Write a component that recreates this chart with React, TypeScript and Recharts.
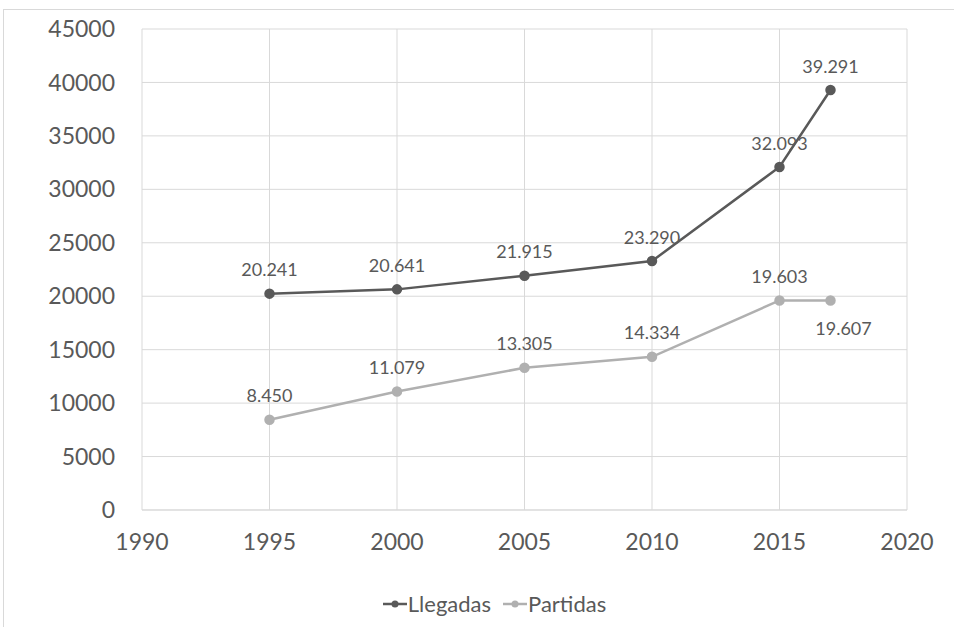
import { CartesianGrid, LabelList, Legend, Line, LineChart, XAxis, YAxis } from "recharts";

const GRID = "#d9d9d9";
const TEXT = "#595959";
const DARK = "#595959";
const LIGHT = "#b0b0b0";
const FONT = "Lato, 'Open Sans', sans-serif";

const years = [1995, 2000, 2005, 2010, 2015, 2017];
const llegadas = [20241, 20641, 21915, 23290, 32093, 39291];
const partidas = [8450, 11079, 13305, 14334, 19603, 19607];
const xTicks = [1990, 1995, 2000, 2005, 2010, 2015, 2020];
const yTicks = [0, 5000, 10000, 15000, 20000, 25000, 30000, 35000, 40000, 45000];

const data = years.map((year, i) => ({
  year,
  Llegadas: llegadas[i],
  Partidas: partidas[i],
}));

const fmt = (v: number) => String(v).replace(/\B(?=(\d{3})+(?!\d))/g, ".");

function PointLabel(props: any) {
  const { x, y, value, index, below } = props;
  const isBelow = below && index === years.length - 1;
  return (
    <text
      x={isBelow ? x + 13 : x}
      y={isBelow ? y + 30 : y - 22}
      textAnchor="middle"
      dominantBaseline="middle"
      fill={TEXT}
      fontSize={18}
      fontFamily={FONT}
    >
      {fmt(value)}
    </text>
  );
}

function LegendContent() {
  const items = [
    { name: "Llegadas", color: DARK },
    { name: "Partidas", color: LIGHT },
  ];
  return (
    <div style={{ display: "flex", justifyContent: "center", gap: 12, fontFamily: FONT, fontSize: 22, color: TEXT }}>
      {items.map((it) => (
        <div key={it.name} style={{ display: "flex", alignItems: "center" }}>
          <svg width={24} height={10} style={{ marginRight: 1 }}>
            <line x1={0} y1={5} x2={24} y2={5} stroke={it.color} strokeWidth={2.5} />
            <circle cx={12} cy={5} r={3.5} fill={it.color} />
          </svg>
          <span>{it.name}</span>
        </div>
      ))}
    </div>
  );
}

export default function App() {
  return (
    <div style={{ position: "absolute", left: 0, top: 0, width: 954, height: 627, overflow: "hidden", background: "#fff" }}>
      <div style={{ position: "absolute", left: 3, top: 9, width: 980, height: 660, border: `1px solid ${GRID}` }} />
      <div style={{ position: "absolute", left: 0, top: 0 }}>
        <LineChart width={954} height={627} data={data} margin={{ top: 29, right: 47, bottom: 60, left: 82 }}>
          <CartesianGrid stroke={GRID} strokeWidth={1} />
          <XAxis
            dataKey="year"
            type="number"
            domain={[1990, 2020]}
            ticks={xTicks}
            axisLine={{ stroke: GRID }}
            tickLine={false}
            tickSize={0}
            tickMargin={24}
            tick={{ fill: TEXT, fontSize: 23, fontFamily: FONT }}
          />
          <YAxis
            width={60}
            domain={[0, 45000]}
            ticks={yTicks}
            axisLine={false}
            tickLine={false}
            tickSize={0}
            tickMargin={27}
            tick={{ fill: TEXT, fontSize: 23, fontFamily: FONT }}
          />
          <Legend verticalAlign="bottom" content={<LegendContent />} wrapperStyle={{ bottom: 10 }} />
          <Line
            dataKey="Llegadas"
            stroke={DARK}
            strokeWidth={2.5}
            dot={{ r: 4, fill: DARK, stroke: DARK }}
            isAnimationActive={false}
          >
            <LabelList dataKey="Llegadas" content={<PointLabel />} />
          </Line>
          <Line
            dataKey="Partidas"
            stroke={LIGHT}
            strokeWidth={2.5}
            dot={{ r: 4, fill: LIGHT, stroke: LIGHT }}
            isAnimationActive={false}
          >
            <LabelList dataKey="Partidas" content={<PointLabel below />} />
          </Line>
        </LineChart>
      </div>
    </div>
  );
}
